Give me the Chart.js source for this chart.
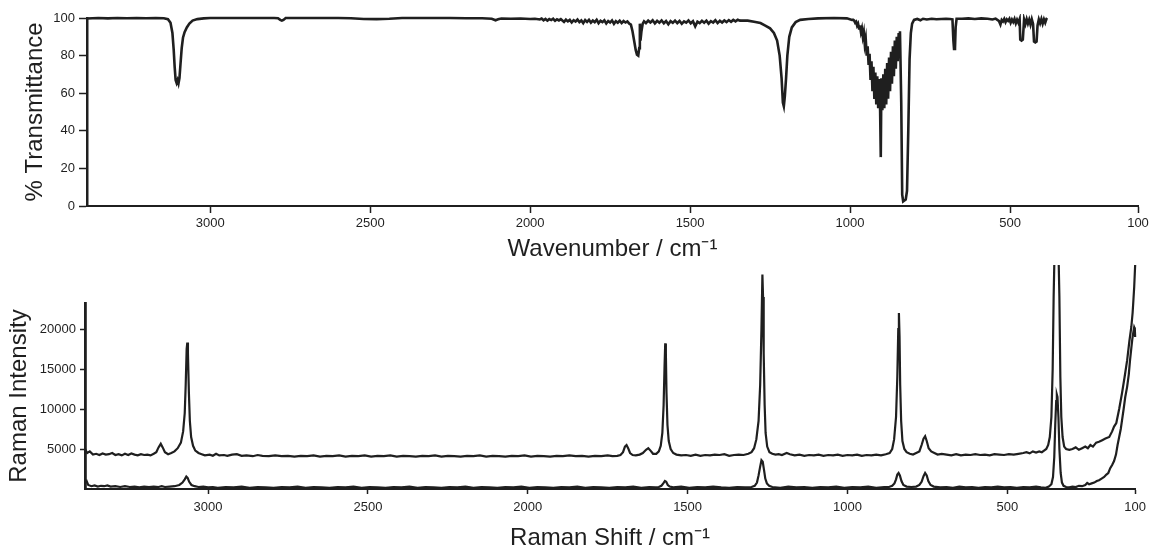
<!DOCTYPE html>
<html>
<head>
<meta charset="utf-8">
<title>IR / Raman spectra</title>
<script src="https://cdn.jsdelivr.net/npm/chart.js@4.4.1/dist/chart.umd.min.js"></script>
<style>
    body { margin: 0; background: #fff; }
    #wrap { position: relative; width: 1152px; height: 554px; overflow: hidden; }
    .box { position: absolute; left: 0; width: 1152px; }
    #irBox { top: 0; height: 270px; }
    #ramanBox { top: 262px; height: 292px; }
</style>
</head>
<body>
<div id="wrap">
    <div class="box" id="irBox"><canvas id="irChart"></canvas></div>
    <div class="box" id="ramanBox"><canvas id="ramanChart"></canvas></div>
</div>
<script>
// Eixos compartilhados
const wavenumberTicks = [3000, 2500, 2000, 1500, 1000, 500, 100];
const transmittanceTicks = [0, 20, 40, 60, 80, 100];
const ramanIntensityTicks = [5000, 10000, 15000, 20000];

// Espectro IR (% transmitância)
const irWavenumber = [
    3385, 3350, 3320, 3290, 3260, 3230, 3200, 3170, 3145, 3132, 3124, 3118, 3114, 3111, 3108, 3105, 3102, 3099, 3096, 3093,
    3089, 3085, 3080, 3073, 3065, 3055, 3040, 3020, 3000, 2950, 2900, 2850, 2800, 2788, 2781, 2776, 2771, 2764, 2700, 2650,
    2600, 2560, 2520, 2480, 2440, 2400, 2350, 2300, 2250, 2200, 2150, 2120, 2108, 2100, 2090, 2060, 2030, 2000, 1985,
    1970, 1964, 1958, 1952, 1946, 1940, 1934, 1928, 1922, 1916, 1910, 1904,
    1900, 1894, 1888, 1882, 1876, 1870, 1864, 1858, 1852, 1846, 1840, 1834, 1828, 1822, 1816, 1810, 1804, 1798, 1792, 1786,
    1780, 1774, 1768, 1762, 1756, 1750, 1744, 1738, 1732, 1726, 1720, 1714, 1708, 1702, 1696, 1690,
    1685, 1680, 1675, 1670, 1666, 1662, 1659, 1657, 1655, 1652, 1648, 1644,
    1638, 1631, 1624, 1617, 1610, 1603, 1596, 1589, 1582, 1575, 1568, 1561, 1554, 1547, 1540, 1533, 1526, 1519, 1512, 1505,
    1498, 1491, 1484, 1477, 1470, 1463, 1456, 1449, 1442, 1435, 1428, 1421, 1414, 1407, 1400, 1393, 1386, 1379, 1372, 1365,
    1358, 1351, 1344,
    1320, 1300, 1280, 1265, 1250, 1238, 1228, 1220, 1214, 1210, 1207, 1204, 1200, 1196, 1190, 1182, 1170, 1156, 1130, 1100,
    1050, 1010, 994,
    990, 987, 984, 981, 978, 975, 972, 969, 966, 963, 960, 957, 954, 951, 948, 945, 942, 939, 936, 933,
    930, 927, 924, 921, 918, 915, 912, 909, 906, 904, 902, 899, 896, 893, 890, 887, 884, 881, 878, 875,
    872, 869, 866, 863, 860, 857, 854, 851, 848, 846, 844,
    840, 837, 834, 830, 826, 822, 818, 814, 810, 806, 800, 790, 780, 772, 760, 745, 730, 715, 700, 688,
    680, 677, 675, 672, 670, 667, 650, 630, 610, 590, 570, 555, 545, 535, 530, 526,
    522, 518, 514, 510, 506, 502, 498, 494, 490, 486, 482, 478, 474, 470, 468, 464, 460, 456, 452, 448,
    444, 440, 436, 432, 428, 425, 421, 417, 414, 410, 406, 402, 398, 394, 390, 386, 384
];
const irTransmittance = [
    99.7, 100, 99.8, 100, 99.9, 100, 99.9, 100, 99.9, 99.4, 97.5, 92, 83, 74, 67, 65.5, 67, 65.2, 68, 75,
    84, 89.5, 92.5, 95, 97, 98.6, 99.4, 99.8, 100, 100, 100, 100, 100, 99.9, 99, 98.6, 99, 100, 100, 100,
    100, 99.9, 99.5, 99.4, 99.6, 100, 100, 100, 100, 99.9, 99.9, 99.6, 98.8, 99.3, 99.7, 99.6, 99.7, 99.5, 99.6,
    99.2, 99.7, 98.8, 99.5, 98.6, 99.4, 98.9, 99.6, 98.5, 99.3, 98.7, 99.4,
    98.8, 97.9, 99.1, 98.2, 99.0, 97.6, 98.8, 98.1, 99.2, 97.8, 98.7, 97.3, 98.9, 97.9, 99.0, 97.5, 98.6, 97.8, 99.0, 97.2,
    98.5, 97.8, 98.8, 97.1, 98.4, 97.6, 98.7, 96.9, 98.3, 97.5, 98.6, 97.3, 98.4, 97.6, 98.2, 97.0,
    96.5, 93, 88, 83, 80.5, 80, 84, 97, 88, 93, 97, 98.2,
    97.3, 98.6, 97.6, 98.8, 97.1, 98.5, 97.5, 98.7, 97.2, 98.4, 96.7, 98.3, 97.4, 98.6, 97.3, 98.4, 96.9, 98.2, 97.5, 98.7,
    97.2, 98.3, 95.6, 98.1, 97.3, 98.5, 97.5, 98.6, 97.0, 98.3, 97.6, 98.8, 97.3, 98.5, 97.6, 98.7, 97.8, 98.9, 98.0, 99.0,
    98.2, 99.1, 98.6,
    98.6, 98.0, 97.3, 96.0, 94.5, 92, 88, 80, 68, 55, 53, 58, 68, 80, 90, 95, 97.8, 99, 99.5, 99.8,
    100, 99.8, 99,
    99, 98.6, 97.5, 98, 96, 97, 94.5, 96, 92.5, 94.5, 90, 92.5, 86, 89, 80, 85, 75, 81, 67, 77,
    61, 74, 57, 71, 54, 69, 52, 67.5, 50.5, 26, 68, 51, 70, 52, 73, 54, 76, 57, 79, 61,
    82, 65, 85, 69, 88, 73, 90, 77, 92, 80, 93,
    55, 6, 2.5, 3, 3.5, 8, 40, 78, 92, 97, 99, 99.5, 98.8, 99.6, 99.2, 99.6, 99.3, 99.5, 99.6, 99.5,
    99.3, 88, 83.5, 84, 95, 99.6, 99.6, 99.8, 99.5, 99.8, 99.6, 99.2, 99.7, 98.5, 96.5, 99,
    98.2, 99.5, 97.8, 99.3, 98.5, 99.6, 97.5, 99.2, 97.9, 99.5, 97.2, 99.1, 97.5, 99.4, 88.5, 88, 88.5, 99.2, 96.8, 99.4,
    97, 99.1, 96.5, 99.3, 96.8, 87.5, 87, 87.5, 96, 99.2, 97.2, 99.5, 97, 99.3, 97.5, 99.6, 100
];

// Espectro Raman, traço superior
const ramanShiftUpper = [
    3385, 3378, 3370, 3360, 3350, 3340, 3330, 3320, 3310, 3300, 3290, 3280, 3270, 3260, 3250, 3240, 3230, 3220, 3210, 3200,
    3190, 3180, 3170, 3162, 3155, 3148, 3142, 3135, 3125, 3115, 3105, 3095, 3085, 3078, 3073, 3070, 3067, 3065, 3063, 3060,
    3057, 3053, 3047, 3040, 3030, 3020, 3010, 2995, 2985, 2975, 2965, 2950, 2940, 2925, 2910, 2895, 2880, 2860, 2845, 2830,
    2810, 2790, 2770, 2750, 2730, 2710, 2690, 2670, 2650, 2630, 2610, 2590, 2570, 2550,
    2530, 2510, 2490, 2470, 2450, 2430, 2410, 2390, 2370, 2350, 2330, 2310, 2290, 2270, 2250, 2230, 2210, 2190, 2170, 2150,
    2130, 2110, 2090, 2070, 2050, 2030, 2010, 1990, 1970, 1950, 1930, 1910, 1890, 1870, 1850, 1830, 1810, 1790, 1770, 1750,
    1735, 1720, 1710, 1702, 1696, 1691, 1686, 1680, 1672, 1662, 1650, 1640, 1630, 1623, 1616, 1608, 1598, 1590, 1584, 1579,
    1575, 1572, 1570, 1568, 1566, 1563, 1559, 1553, 1545, 1535, 1520, 1505, 1490, 1475, 1460, 1445, 1430, 1415, 1400, 1385,
    1370, 1355, 1340, 1325, 1310, 1300, 1292, 1285, 1278, 1273, 1269, 1266, 1264, 1262, 1259, 1256, 1251, 1244, 1235, 1225,
    1215, 1205, 1190, 1180, 1165, 1150, 1135, 1120, 1105, 1090, 1075, 1060, 1045, 1030, 1015, 1000, 985, 970, 955, 940,
    925, 910, 895, 880, 868, 860, 854, 848, 844, 841, 839, 837, 835, 832, 828, 822, 815, 805, 795, 785,
    775, 768, 762, 757, 752, 746, 738, 728, 718, 705, 690, 675, 660, 645, 630, 615, 600, 585, 570, 555,
    540, 525, 510, 495, 480, 465, 450, 440, 430, 420, 410, 400, 392, 385, 378, 372, 367, 362, 358, 355,
    352, 340, 337, 334, 331, 327, 322, 316, 306, 296, 286, 276, 266, 256, 248, 240, 232, 222, 213, 203,
    193, 181, 172, 166, 159, 150, 141, 133, 125, 118, 112, 108, 106, 103, 100
];
const ramanIntensityUpper = [
    5000, 4500, 4700, 4300, 4400, 4250, 4450, 4300, 4350, 4500, 4250, 4350, 4200, 4400, 4250, 4450, 4300, 4200, 4350, 4250,
    4300, 4200, 4400, 4600, 5200, 5650, 5200, 4600, 4350, 4500, 4700, 5100, 5800, 7200, 9500, 13000, 17500, 18300, 17000, 12000,
    8500, 6500, 5400, 4800, 4500, 4350, 4200, 4300, 4150, 4400, 4200, 4250, 4150, 4300, 4350, 4150, 4200, 4100, 4250, 4150,
    4100, 4200, 4100, 4150, 4050, 4150, 4100, 4200, 4050, 4150, 4100, 4200, 4050, 4150,
    4100, 4200, 4050, 4150, 4100, 4200, 4050, 4150, 4100, 4050, 4150, 4100, 4200, 4050, 4150, 4100, 4050, 4150, 4100, 4200,
    4050, 4150, 4100, 4050, 4150, 4100, 4200, 4050, 4150, 4100, 4050, 4150, 4100, 4200, 4100, 4150, 4050, 4150, 4100, 4200,
    4100, 4150, 4250, 4600, 5300, 5500, 5100, 4500, 4250, 4200, 4300, 4500, 4900, 5100, 4800, 4400, 4400, 4700, 5400, 7000,
    10500, 15500, 18200, 17000, 12000, 8000, 6000, 5000, 4500, 4300, 4200, 4250, 4150, 4300, 4150, 4250, 4200, 4300, 4250, 4350,
    4150, 4250, 4300, 4250, 4400, 4600, 5100, 6200, 8500, 13000, 20000, 26800, 24000, 17000, 10500, 7000, 5300, 4600, 4400, 4300,
    4350, 4250, 4500, 4350, 4200, 4300, 4150, 4250, 4200, 4300, 4150, 4250, 4200, 4300, 4150, 4250, 4200, 4300, 4150, 4250,
    4200, 4300, 4200, 4350, 4500, 5000, 6200, 9000, 14000, 20000, 22000, 19000, 13000, 8500, 6000, 5000, 4600, 4400, 4300, 4500,
    4700, 5500, 6300, 6600, 6000, 5100, 4700, 4500, 4300, 4400, 4300, 4200, 4350, 4200, 4300, 4250, 4350, 4250, 4300, 4200,
    4350, 4300, 4250, 4350, 4300, 4400, 4500, 4600, 4450, 4700, 4550, 4700, 4600, 4800, 5000, 5500, 6500, 9000, 15000, 24000,
    30000, 30000, 24000, 14000, 9000, 6500, 5300, 5000, 4900, 5000, 5200, 4900, 5100, 5300, 5100, 5500, 5300, 5800, 5900, 6100,
    6300, 6500, 7200, 7800, 8250, 10000, 12000, 14000, 16100, 18500, 20250, 22000, 23250, 25250, 28000
];

// Espectro Raman, traço inferior
const ramanShiftLower = [
    3385, 3380, 3375, 3365, 3355, 3345, 3335, 3325, 3315, 3305, 3290, 3275, 3260, 3245, 3230, 3215, 3200, 3185, 3170, 3155,
    3145, 3135, 3120, 3105, 3090, 3080, 3073, 3068, 3064, 3059, 3052, 3042, 3030, 3015, 3000, 2985,
    2970, 2945, 2920, 2895, 2870, 2845, 2820, 2795, 2770, 2745, 2720, 2695, 2670, 2645, 2620, 2595, 2570, 2545, 2520, 2495,
    2470, 2445, 2420, 2395, 2370, 2345, 2320, 2295, 2270, 2245, 2220, 2195, 2170, 2145, 2120, 2095, 2070, 2045, 2020, 1995,
    1970, 1945, 1920, 1895, 1870, 1845, 1820, 1795, 1770, 1745, 1720, 1695, 1670, 1645, 1620, 1600,
    1590, 1582, 1576, 1571, 1567, 1562, 1556, 1545, 1520, 1495, 1470, 1445, 1420, 1395, 1370, 1345, 1320, 1300,
    1290, 1283, 1278, 1273, 1269, 1265, 1261, 1257, 1252, 1245, 1235, 1210, 1185, 1160, 1135, 1110, 1085, 1060, 1035, 1010,
    985, 960, 935, 910, 885, 870, 860, 853, 848, 844, 840, 836, 831, 825, 815, 800, 785, 775, 768, 762,
    757, 752, 747, 740, 730, 710, 690, 670, 650, 630, 610, 590, 570, 550, 530, 510, 490, 470, 450, 430,
    410, 395, 380, 370, 362, 357, 353, 350, 347, 345, 343, 340, 337, 333, 329, 324, 316, 306, 296, 286,
    276, 266, 256, 250, 244, 236, 228, 220, 213, 205, 197, 190, 184, 178, 172, 166, 160, 155, 150, 145,
    141, 136, 131, 125, 120, 116, 112, 109, 106, 103, 101, 100
];
const ramanIntensityLower = [
    800, 1000, 500, 350, 450, 300, 400, 350, 450, 300, 350, 250, 350, 250, 300, 200, 300, 250, 300, 250,
    350, 250, 300, 350, 500, 800, 1200, 1550, 1400, 900, 500, 350, 250, 300, 200, 250,
    150, 250, 200, 300, 150, 250, 200, 150, 250, 200, 300, 150, 250, 200, 150, 250, 200, 300, 150, 250,
    200, 150, 250, 200, 300, 150, 250, 200, 150, 250, 200, 300, 150, 250, 200, 150, 250, 200, 300, 150,
    250, 200, 150, 250, 200, 300, 150, 250, 200, 150, 250, 200, 300, 150, 250, 200,
    250, 400, 700, 1000, 900, 500, 300, 200, 300, 150, 250, 200, 300, 200, 150, 250, 200, 250,
    400, 800, 1700, 2800, 3600, 3400, 2400, 1300, 700, 400, 250, 150, 300, 200, 250, 150, 250, 200, 300, 150,
    250, 200, 300, 150, 250, 250, 400, 700, 1200, 1800, 2000, 1700, 1000, 500, 300, 250, 300, 500, 900, 1600,
    2000, 1700, 1000, 500, 300, 200, 250, 150, 300, 200, 250, 150, 250, 200, 300, 200, 250, 150, 250, 200,
    300, 200, 150, 300, 600, 1500, 4000, 8000, 11000, 11800, 11500, 9000, 5000, 2000, 800, 400, 250, 200, 300, 250,
    400, 350, 500, 750, 600, 700, 800, 1000, 1100, 1300, 1500, 1800, 2000, 2600, 3000, 3500, 4300, 5500, 6500, 7500,
    8600, 10000, 11500, 12800, 14300, 16100, 17600, 18700, 19500, 20200, 20000, 19000
];

// Limites e estilo
const xMin = 100;
const xMax = 3385;
const ramanYMax = 23250;
const ink = '#1f1f1f';
const fontFamily = "'Liberation Sans', Arial, Helvetica, sans-serif";

Chart.defaults.font.family = fontFamily;
Chart.defaults.color = ink;

const toPoints = (xs, ys) => xs.map((x, i) => ({ x: x, y: ys[i] }));
const plainLabel = value => String(value);

/**
 * Monta as opções de um eixo X (número de onda, invertido)
 */
const buildXScale = (titleText, tickLength, axisHeight, titlePadding, labelPadding) => ({
    type: 'linear',
    reverse: true,
    min: xMin,
    max: xMax,
    afterBuildTicks: scale => { scale.ticks = wavenumberTicks.map(v => ({ value: v })); },
    afterFit: scale => { scale.height = axisHeight; },
    ticks: {
        autoSkip: false,
        maxRotation: 0,
        padding: labelPadding,
        color: ink,
        font: { size: 13 },
        callback: plainLabel
    },
    grid: {
        drawOnChartArea: false,
        drawTicks: true,
        tickLength: tickLength,
        tickWidth: 1.5,
        tickColor: ink
    },
    border: { display: true, color: ink, width: 2 },
    title: {
        display: true,
        text: titleText,
        color: ink,
        font: { size: 24 },
        padding: { top: 0, bottom: titlePadding }
    }
});

/**
 * Espectro IR
 * ======================================================================== */
const initIrChart = () => {
    const ctx = document.getElementById('irChart');
    new Chart(ctx, {
        type: 'line',
        data: {
            datasets: [{
                data: toPoints(irWavenumber, irTransmittance),
                borderColor: ink,
                borderWidth: 2.6,
                pointRadius: 0,
                tension: 0,
                clip: 4
            }]
        },
        options: {
            responsive: true,
            maintainAspectRatio: false,
            animation: false,
            events: [],
            layout: { padding: { top: 18, right: 14, left: 0, bottom: 0 } },
            plugins: { legend: { display: false }, tooltip: { enabled: false } },
            scales: {
                x: buildXScale('Wavenumber / cm\u207B\u00B9', 7, 64, 6, 3),
                y: {
                    min: 0,
                    max: 100,
                    afterBuildTicks: scale => { scale.ticks = transmittanceTicks.map(v => ({ value: v })); },
                    afterFit: scale => { scale.width = 87; },
                    ticks: { padding: 4, color: ink, font: { size: 13 }, callback: plainLabel },
                    grid: { drawOnChartArea: false, tickLength: 8, tickWidth: 1.5, tickColor: ink },
                    border: { display: true, color: ink, width: 2.5 },
                    title: {
                        display: true,
                        text: '% Transmittance',
                        color: ink,
                        font: { size: 24 },
                        padding: { top: 21, bottom: 0 }
                    }
                }
            }
        }
    });
};

/**
 * Espectros Raman
 * ======================================================================== */
const initRamanChart = () => {
    const ctx = document.getElementById('ramanChart');
    const lineStyle = {
        borderColor: ink,
        borderWidth: 2.2,
        pointRadius: 0,
        tension: 0,
        clip: { left: 4, right: 4, top: 38, bottom: 4 }
    };
    new Chart(ctx, {
        type: 'line',
        data: {
            datasets: [
                Object.assign({ data: toPoints(ramanShiftUpper, ramanIntensityUpper) }, lineStyle),
                Object.assign({ data: toPoints(ramanShiftLower, ramanIntensityLower) }, lineStyle)
            ]
        },
        options: {
            responsive: true,
            maintainAspectRatio: false,
            animation: false,
            events: [],
            layout: { padding: { top: 41, right: 16, left: 0, bottom: 0 } },
            plugins: { legend: { display: false }, tooltip: { enabled: false } },
            scales: {
                x: buildXScale('Raman Shift / cm\u207B\u00B9', 5, 65, 1.5, 6),
                y: {
                    min: 0,
                    max: ramanYMax,
                    afterBuildTicks: scale => { scale.ticks = ramanIntensityTicks.map(v => ({ value: v })); },
                    afterFit: scale => { scale.width = 85; },
                    ticks: { padding: 4, color: ink, font: { size: 13 }, callback: plainLabel },
                    grid: { drawOnChartArea: false, tickLength: 5, tickWidth: 1.5, tickColor: ink },
                    border: { display: true, color: ink, width: 2.8 },
                    title: {
                        display: true,
                        text: 'Raman Intensity',
                        color: ink,
                        font: { size: 24 },
                        padding: { top: 5, bottom: 0 }
                    }
                }
            }
        }
    });
};

initIrChart();
initRamanChart();
</script>
</body>
</html>
